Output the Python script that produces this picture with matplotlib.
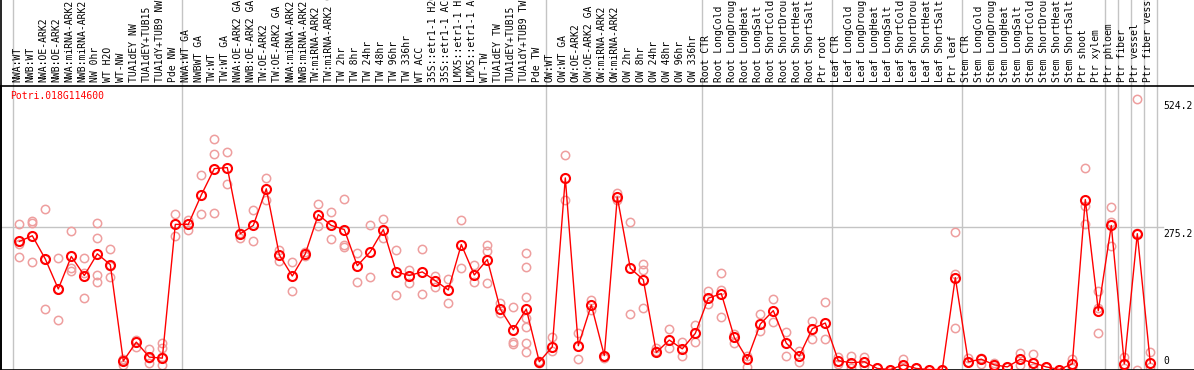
import numpy as np
import matplotlib.pyplot as plt
from matplotlib.lines import Line2D
from matplotlib.transforms import blended_transform_factory, offset_copy

# sample names along the top (88 samples)
samples = [
    'NWA:WT', 'NWB:WT', 'NWA:OE-ARK2', 'NWB:OE-ARK2', 'NWA:miRNA-ARK2', 'NWB:miRNA-ARK2',
    'NW 0hr', 'WT H2O', 'WT-NW', 'TUA1dEY NW', 'TUA1dEY+TUB15', 'TUA1dY+TUB9 NW', 'Pde NW',
    'NWA:WT GA', 'NWBWT GA', 'TW:WT', 'TW:WT GA', 'NWA:OE-ARK2 GA', 'NWB:OE-ARK2 GA',
    'TW:OE-ARK2', 'TW:OE-ARK2 GA', 'NWA:miRNA-ARK2', 'NWB:miRNA-ARK2', 'TW:miRNA-ARK2',
    'TW:miRNA-ARK2 GA', 'TW 2hr', 'TW 8hr', 'TW 24hr', 'TW 48hr', 'TW 96hr', 'TW 336hr', 'WT ACC',
    '35S::etr1-1 H2O', '35S::etr1-1 ACC', 'LMX5::etr1-1 H2O', 'LMX5::etr1-1 ACC', 'WT-TW',
    'TUA1dEY TW', 'TUA1dEY+TUB15', 'TUA1dY+TUB9 TW', 'Pde TW',
    'OW:WT', 'OW:WT GA', 'OW:OE-ARK2', 'OW:OE-ARK2 GA', 'OW:miRNA-ARK2', 'OW:miRNA-ARK2',
    'OW 2hr', 'OW 8hr', 'OW 24hr', 'OW 48hr', 'OW 96hr', 'OW 336hr',
    'Root CTR', 'Root LongCold', 'Root LongDrought', 'Root LongHeat', 'Root LongSalt',
    'Root ShortCold', 'Root ShortDrought', 'Root ShortHeat', 'Root ShortSalt', 'Ptr root',
    'Leaf CTR', 'Leaf LongCold', 'Leaf LongDrought', 'Leaf LongHeat', 'Leaf LongSalt',
    'Leaf ShortCold', 'Leaf ShortDrought', 'Leaf ShortHeat', 'Leaf ShortSalt', 'Ptr leaf',
    'Stem CTR', 'Stem LongCold', 'Stem LongDrought', 'Stem LongHeat', 'Stem LongSalt',
    'Stem ShortCold', 'Stem ShortDrought', 'Stem ShortHeat', 'Stem ShortSalt', 'Ptr shoot',
    'Ptr xylem', 'Ptr phloem', 'Ptr fiber', 'Ptr vessel', 'Ptr fiber vessel',
]

# mean expression per sample
means = [248, 259, 214, 156, 219, 182, 224, 203, 16.5, 53, 24, 22, 281,
         281, 338, 389, 391, 263, 279, 350, 222, 181, 224, 300, 279, 271, 201, 228, 271,
         189, 182, 189, 172, 154, 242, 183, 213, 117, 77, 117, 15,
         44, 371, 46, 125, 27, 334, 196, 174, 33, 57, 40, 70,
         138, 147, 62, 20, 88, 114, 51, 26, 79, 90,
         17, 13, 15, 2, 0, 9, 2, 0, 0, 178,
         15, 20, 9, 5, 20, 13, 5, 0, 11, 329, 114,
         279, 11, 263, 13]

# replicate values per sample
reps = [
    [282, 244, 218], [288, 284, 208], [310, 117, 214], [216, 96, 156], [269, 196, 190],
    [216, 187, 138], [284, 255, 183, 169], [233, 200, 179], [18, 9, 20], [57, 44],
    [39, 12, 22], [51, 41, 25, 9], [301, 258],
    [290, 271], [376, 301], [446, 418, 303], [422, 360], [255, 265], [308, 249],
    [371, 329], [231, 211], [209, 152], [220, 228], [321, 277], [305, 253],
    [330, 242, 237], [226, 169], [279, 179], [292, 255], [231, 145], [193, 167],
    [233, 146], [182, 160], [175, 128], [290, 196], [203, 169], [242, 229, 167],
    [128, 110], [121, 54, 50], [226, 198, 140, 99, 82, 52, 33], [13, 17],
    [62, 35], [415, 328], [70, 20], [134, 116], [26, 22], [341, 329], [286, 108],
    [205, 193, 119], [41, 36], [78, 41], [54, 27], [86, 53],
    [152, 127], [187, 153, 101], [68, 51], [27, 5], [107, 75], [136, 92], [72, 27],
    [35, 15], [94, 59], [130, 59],
    [25, 11], [26, 2], [25, 7], [2, 2], [0, 0], [20, 5], [2, 2], [0, 0], [0, 0],
    [266, 185, 80],
    [23, 15], [23, 10], [13, 5], [5, 5], [31, 9], [30, 2], [5, 5], [0, 0], [20, 2],
    [391, 316, 281], [152, 119, 70],
    [315, 285, 240], [25, 2], [524.2, 0, 265], [33, 5],
]

group_edges = [-0.5, 12.5, 40.5, 52.5, 62.5, 72.5, 83.5, 84.5, 85.5, 86.5, 87.5]
ytick_vals = [524.2, 275.2, 0]
gene = 'Potri.018G114600'

plt.rcParams['font.family'] = ['DejaVu Sans Mono']

W, H = 1194, 370
fig = plt.figure(figsize=(W / 100, H / 100), dpi=100)
ax = fig.add_axes([1 / W, 0.5 / H, 1 - 1 / W, 283.5 / H])
ax.set_xlim((1 - 19.3) / 13, (W - 19.3) / 13)
ax.set_ylim(0, 549)
ax.set_xticks([])
ax.set_yticks([])
ax.spines['right'].set_visible(False)
for s in ['left', 'top', 'bottom']:
    ax.spines[s].set_linewidth(1.2)

top_frac = 369.5 / 283.5
for e in group_edges:
    ax.axvline(e, ymin=0, ymax=top_frac, color='#c4c4c4', lw=1, clip_on=False, zorder=0)
ax.axhline(275.2, xmax=(1163 - 1) / (W - 1), color='#c4c4c4', lw=1, zorder=0)
fig.add_artist(Line2D([1 / W, 1 / W], [0, 1], color='black', lw=1.2))

x = np.arange(len(means))
for i, r in enumerate(reps):
    ax.plot([i] * len(r), r, 'o', mfc='none', mec='#ee9e9e', ms=6, mew=1.1,
            clip_on=False, zorder=2)
ax.plot(x, means, '-', color='red', lw=1, zorder=3)
ax.plot(x, means, 'o', mfc='none', mec='red', ms=6.5, mew=1.5, clip_on=False, zorder=4)

trans = blended_transform_factory(ax.transData, ax.transAxes)
for i, s in enumerate(samples):
    ax.text(i - 0.18, 1.014, s, rotation=90, ha='center', va='bottom', fontsize=7,
            transform=trans, clip_on=False)

xlab = (1163 - 19.3) / 13
down = offset_copy(ax.transData, fig=fig, y=-2, units='dots')
for v in ytick_vals:
    if v == 0:
        ax.text(xlab, 7, '0', ha='left', va='bottom', fontsize=7)
    else:
        ax.text(xlab, v, '%.1f' % v, ha='left', va='top', fontsize=7, transform=down)

fig.text(10 / W, 1 - 91 / H, gene, color='red', ha='left', va='top', fontsize=7)

fig.savefig('out.png', dpi=100)
